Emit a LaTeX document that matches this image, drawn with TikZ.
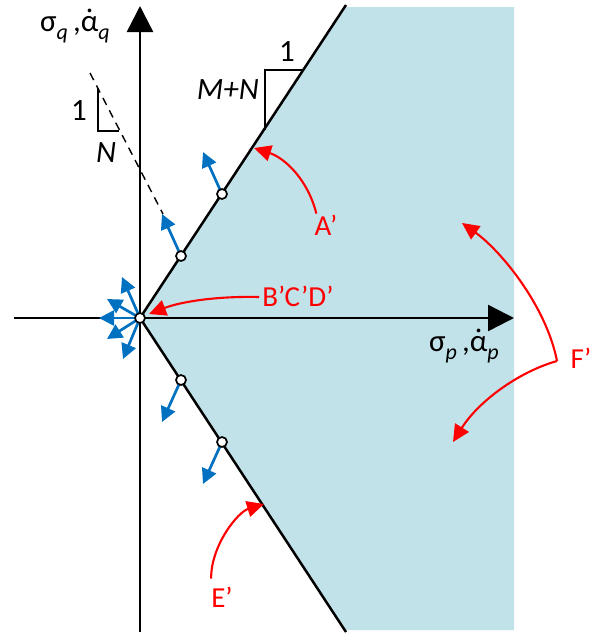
\documentclass[tikz,border=0pt]{standalone}
\usepackage{fontspec}
\setmainfont{Carlito}
\usetikzlibrary{arrows.meta}
\definecolor{regionblue}{HTML}{C2E2EA}
\definecolor{flowblue}{HTML}{0070C0}
\definecolor{labelred}{HTML}{FF0000}
\newcommand{\subq}[1]{\raisebox{-0.25em}{\fontsize{22}{22}\selectfont\itshape #1}}
\newcommand{\adot}{\ooalign{α\cr\hidewidth\raisebox{0.05em}{˙}\hidewidth\cr}}
\begin{document}
\begin{tikzpicture}[x=1pt,y=-1pt,
  axis/.style={line width=2.5pt,-{Triangle[length=26pt,width=26pt]}},
  boundary/.style={line width=2.5pt},
  flow/.style={flowblue,line width=2.7pt,-{Triangle[length=15pt,width=15pt]}},
  pointer/.style={labelred,line width=2.1pt,-{Triangle[length=17pt,width=16pt]}},
  hinge/.style={circle,draw=black,fill=white,line width=1.7pt,inner sep=0pt,minimum size=10pt},
  lab/.style={font=\fontsize{31}{34}\selectfont,inner sep=0pt},
  redlab/.style={font=\fontsize{29}{32}\selectfont,inner sep=0pt,text=labelred},
  tri/.style={line width=1.3pt}
]
\useasboundingbox (0,0) rectangle (590,633);
\coordinate (O) at (140,318);
\coordinate (Utop) at (346,5);
\coordinate (Lbot) at (346,632);
\fill[regionblue] (O) -- (346,7) -- (514,7) -- (514,630) -- (346,630) -- cycle;
% axes
\coordinate (vbot) at (140,632);
\coordinate (vtop) at (140,6);
\coordinate (hleft) at (14,318);
\coordinate (hright) at (514,318);
\draw[axis] (vbot) -- (vtop);
\draw[axis] (hleft) -- (hright);
% boundaries
\draw[boundary] (O) -- (Utop);
\draw[boundary] (O) -- (Lbot);
% slope triangle M+N
\coordinate (t1a) at (265,130);
\coordinate (t1b) at (265,70);
\coordinate (t1c) at (304,70);
\draw[tri] (t1a) -- (t1b) -- (t1c);
\node[lab] (one1) at (287,52) {1};
\node[lab,anchor=east] (mn) at (259,90) {\itshape M+N};
% dashed line and triangle N
\coordinate (d1) at (90,73);
\coordinate (d2) at (163,214);
\draw[line width=1.4pt,dash pattern=on 8pt off 6pt] (d1) -- (d2);
\coordinate (t2a) at (98,88);
\coordinate (t2b) at (98,131);
\coordinate (t2c) at (119,131);
\draw[tri] (t2a) -- (t2b) -- (t2c);
\node[lab] (one2) at (79,111) {1};
\node[lab] (nn) at (106,153) {\itshape N};
% hinge points
\coordinate (h0) at (O);
\coordinate (h1) at (181,256);
\coordinate (h2) at (222,194);
\coordinate (h3) at (181,380);
\coordinate (h4) at (222,442);
% flow arrows
\draw[flow] (h1) -- ++(-19,-42);
\draw[flow] (h2) -- ++(-19,-42);
\draw[flow] (h3) -- ++(-19,42);
\draw[flow] (h4) -- ++(-19,42);
\draw[flow] (h0) -- ++(-18,-41);
\draw[flow] (h0) -- ++(-33,-19);
\draw[flow] (h0) -- ++(-41,0);
\draw[flow] (h0) -- ++(-33,21);
\draw[flow] (h0) -- ++(-17,41);
\foreach \h in {h0,h1,h2,h3,h4} \node[hinge] at (\h) {};
% axis labels
\node[lab] (qlab) at (75,30) {σ\subq{q}\,,\adot\subq{q}};
\node[lab] (plab) at (464,350) {σ\subq{p}\,,\adot\subq{p}};
% red labels and pointers
\node[redlab] (A) at (326,225) {A’};
\node[redlab] (B) at (298,296) {B’C’D’};
\node[redlab] (E) at (222,597) {E’};
\node[redlab] (F) at (581,358) {F’};
\coordinate (Ftail) at (557,361);
\draw[pointer] (A.north west) ++(2,-1) .. controls (308,180) and (285,158) .. (254,148);
\draw[pointer] (B.west) ++(-3,1) .. controls (215,296) and (180,302) .. (149,314);
\draw[pointer] (E.north west) ++(0,-8) .. controls (211,545) and (238,512) .. (264,504);
\draw[pointer] (Ftail) .. controls (546,305) and (500,250) .. (462,223);
\draw[pointer] (Ftail) .. controls (518,372) and (478,402) .. (453,442);
\end{tikzpicture}
\end{document}
